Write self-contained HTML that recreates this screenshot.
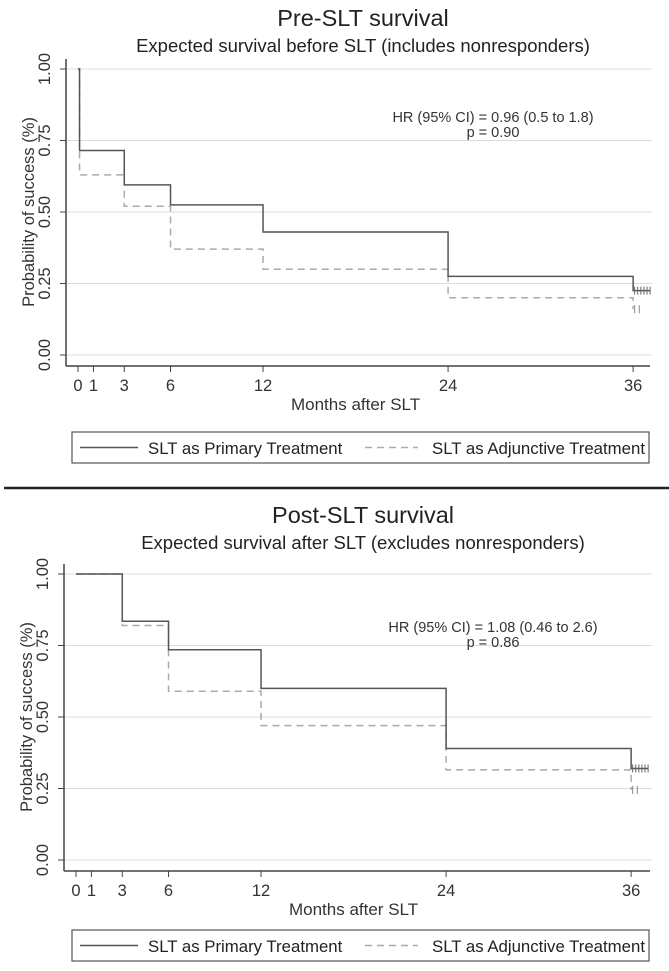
<!DOCTYPE html>
<html><head><meta charset="utf-8"><style>
html,body{margin:0;padding:0;background:#fff}
svg{display:block;font-family:"Liberation Sans",sans-serif}
</style></head><body>
<svg id="chart" width="669" height="971" viewBox="0 0 669 971"></svg>
<script>
const xTicks=[0,1,3,6,12,24,36];
const yTicks=[0,0.25,0.5,0.75,1];
const yTickLabels=["0.00","0.25","0.50","0.75","1.00"];
const preTimes=[0,0.1,3,6,12,24,36];
const prePrimary=[1,0.715,0.595,0.525,0.43,0.275,0.225];
const preAdjunct=[1,0.63,0.52,0.37,0.30,0.20,0.16];
const postTimes=[0,3,6,12,24,36];
const postPrimary=[1,0.835,0.735,0.60,0.39,0.32];
const postAdjunct=[1,0.82,0.59,0.47,0.315,0.245];
const preCensorP=[36.1,36.3,36.5,36.7,36.9,37.1];
const preCensorA=[36.1,36.4];
const postCensorP=[36.1,36.3,36.5,36.7,36.9,37.1];
const postCensorA=[36.1,36.4];

const NS="http://www.w3.org/2000/svg";
const svg=document.getElementById('chart');
function el(tag,attrs,parent,text){const e=document.createElementNS(NS,tag);for(const k in attrs)e.setAttribute(k,attrs[k]);if(text!==undefined)e.textContent=text;(parent||svg).appendChild(e);return e;}

function panel(cfg){
  const g=el('g',{});
  
  
  const X=t=>cfg.x0+t*cfg.xs, Y=v=>cfg.y0-v*(cfg.y0-cfg.y1);
  let t=el('text',{x:363,y:cfg.titleY,'text-anchor':'middle','font-size':23.5,fill:'#222'},g,cfg.title);
  
  t=el('text',{x:363,y:cfg.subY,'text-anchor':'middle','font-size':18.5,fill:'#222'},g,cfg.sub);
  
  yTicks.forEach((v,i)=>{
    const gl=el('line',{x1:cfg.axX,x2:652,y1:Y(v),y2:Y(v),stroke:'#dcdcdc','stroke-width':1},g);
    
    el('line',{x1:cfg.axX-6,x2:cfg.axX,y1:Y(v),y2:Y(v),stroke:'#444'},g);
    const tl=el('text',{transform:`translate(${cfg.axX-16},${Y(v)}) rotate(-90)`,'text-anchor':'middle','font-size':16.5,fill:'#333'},g,yTickLabels[i]);
    
  });
  const yt=el('text',{transform:`translate(${cfg.axX-32},${(Y(0)+Y(1))/2}) rotate(-90)`,'text-anchor':'middle','font-size':16.5,fill:'#333'},g,'Probability of success (%)');
  
  el('line',{x1:cfg.axX,x2:cfg.axX,y1:Y(1)-10,y2:cfg.axY,stroke:'#444','stroke-width':1.5},g);
  el('line',{x1:cfg.axX,x2:650,y1:cfg.axY,y2:cfg.axY,stroke:'#444','stroke-width':1.5},g);
  xTicks.forEach(v=>{
    el('line',{x1:X(v),x2:X(v),y1:cfg.axY,y2:cfg.axY+6,stroke:'#444'},g);
    const tl=el('text',{x:X(v),y:cfg.axY+25,'text-anchor':'middle','font-size':16.5,fill:'#333'},g,String(v));
    
  });
  const xt=el('text',{x:(X(0)+X(36))/2,y:cfg.axY+44,'text-anchor':'middle','font-size':17,fill:'#333'},g,'Months after SLT');
  
  function step(times,vals,end,style,name){
    let d=`M${X(times[0])},${Y(vals[0])}`;
    for(let i=1;i<times.length;i++){d+=`H${X(times[i])}V${Y(vals[i])}`;}
    d+=`H${X(end)}`;
    const p=el('path',Object.assign({d:d,fill:'none'},style),g);
    
  }
  step(cfg.times,cfg.adj,36,{stroke:'#aaa','stroke-width':1.5,'stroke-dasharray':'7,5'},'adjunctive-curve');
  step(cfg.times,cfg.prim,37.1,{stroke:'#555','stroke-width':1.5},'primary-curve');
  const lp=cfg.prim[cfg.prim.length-1], la=cfg.adj[cfg.adj.length-1];
  cfg.cP.forEach(c=>{const m=el('line',{x1:X(c),x2:X(c),y1:Y(lp)-4,y2:Y(lp)+4,stroke:'#666'},g);});
  cfg.cA.forEach(c=>{const m=el('line',{x1:X(c),x2:X(c),y1:Y(la)-4,y2:Y(la)+4,stroke:'#888'},g);});
  t=el('text',{x:493,y:cfg.hrY,'text-anchor':'middle','font-size':14.5,fill:'#333'},g,cfg.hr);
  
  t=el('text',{x:493,y:cfg.hrY+15,'text-anchor':'middle','font-size':14.5,fill:'#333'},g,cfg.p);
  
  const lg=el('g',{},g);
  
  el('rect',{x:72,y:cfg.legY,width:577,height:31,fill:'#fff',stroke:'#555','stroke-width':1.2},lg);
  el('line',{x1:80,x2:138,y1:cfg.legY+15.5,y2:cfg.legY+15.5,stroke:'#555','stroke-width':1.5},lg);
  let le=el('text',{x:148,y:cfg.legY+22,'font-size':16.8,fill:'#222'},lg,'SLT as Primary Treatment');
  
  el('line',{x1:365,x2:418,y1:cfg.legY+15.5,y2:cfg.legY+15.5,stroke:'#aaa','stroke-width':1.5,'stroke-dasharray':'7,5'},lg);
  le=el('text',{x:432,y:cfg.legY+22,'font-size':16.8,fill:'#222'},lg,'SLT as Adjunctive Treatment');
  
}
panel({name:'pre-slt-panel',title:'Pre-SLT survival',sub:'Expected survival before SLT (includes nonresponders)',titleY:26,subY:52,
  x0:78,xs:15.42,y0:355,y1:69,axX:66,axY:366,times:preTimes,prim:prePrimary,adj:preAdjunct,cP:preCensorP,cA:preCensorA,
  hr:'HR (95% CI) = 0.96 (0.5 to 1.8)',p:'p = 0.90',hrY:122,legY:432});
const dv=el('line',{x1:4,x2:669,y1:488,y2:488,stroke:'#222','stroke-width':2.5});

panel({name:'post-slt-panel',title:'Post-SLT survival',sub:'Expected survival after SLT (excludes nonresponders)',titleY:523,subY:549,
  x0:76,xs:15.42,y0:860,y1:574,axX:64,axY:871,times:postTimes,prim:postPrimary,adj:postAdjunct,cP:postCensorP,cA:postCensorA,
  hr:'HR (95% CI) = 1.08 (0.46 to 2.6)',p:'p = 0.86',hrY:632,legY:930});
</script>
</body></html>
